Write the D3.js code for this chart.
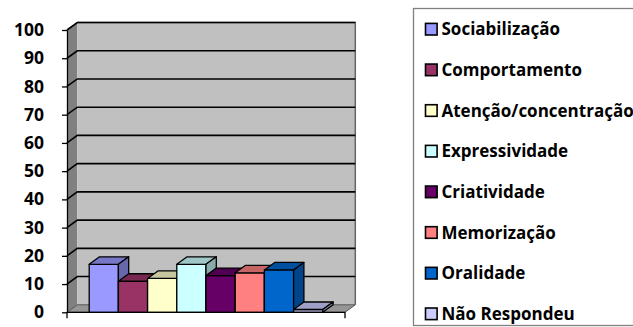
<!DOCTYPE html>
<html>
<head>
<meta charset="utf-8">
<script src="https://cdn.jsdelivr.net/npm/d3@7"></script>
<style>
  html, body { margin: 0; padding: 0; background: #fff; }
  svg { display: block; }
  text { font-family: "Open Sans", Lato, sans-serif; font-weight: bold; fill: #000; }
</style>
</head>
<body>
<svg id="chart" width="633" height="327"></svg>
<script>
// Series (one bar per category, single group)
const categories = ["Sociabilização", "Comportamento", "Atenção/concentração", "Expressividade",
                    "Criatividade", "Memorização", "Oralidade", "Não Respondeu"];
const values = [17, 11, 12, 17, 13, 14, 15, 1];
const colors = ["#9999FF", "#993366", "#FFFFCC", "#CCFFFF", "#660066", "#FF8080", "#0066CC", "#CCCCFF"];
const yTicks = [0, 10, 20, 30, 40, 50, 60, 70, 80, 90, 100];

const svg = d3.select("#chart");

// plot geometry (front plane) and 3D depth offset
const plotL = 67, plotR = 345, plotT = 30, plotB = 312.3;
const dx = 10.3, dy = -7.5;

const y = d3.scaleLinear().domain([0, 100]).range([plotB, plotT]);
const x = d3.scaleBand().domain(categories).range([plotL, plotR])
  .paddingInner(0).paddingOuter(0.76);

const shade = (c, k) => {
  const col = d3.rgb(c);
  return d3.rgb(col.r * k, col.g * k, col.b * k).formatHex();
};

// walls and floor
const g = svg.append("g");
g.append("polygon") // side wall
  .attr("points", [[plotL, y(100)], [plotL + dx, y(100) + dy], [plotL + dx, y(0) + dy], [plotL, y(0)]].join(" "))
  .attr("fill", "#808080");
g.append("rect") // back wall
  .attr("x", plotL + dx).attr("y", y(100) + dy)
  .attr("width", plotR - plotL).attr("height", y(0) - y(100))
  .attr("fill", "#C0C0C0");
g.append("polygon") // floor
  .attr("points", [[plotL, y(0)], [plotL + dx, y(0) + dy], [plotR + dx, y(0) + dy], [plotR, y(0)]].join(" "))
  .attr("fill", "#969696").attr("stroke", "#555").attr("stroke-width", 1);

// back wall frame
g.append("path")
  .attr("d", `M${plotL + dx},${y(100) + dy}H${plotR + dx}V${y(0) + dy}`)
  .attr("fill", "none").attr("stroke", "#666").attr("stroke-width", 1.5);

// gridlines
g.selectAll(".grid").data(yTicks.filter(v => v > 0)).join("path")
  .attr("class", "grid")
  .attr("d", v => `M${plotL},${y(v)}L${plotL + dx},${y(v) + dy}H${plotR + dx}`)
  .attr("fill", "none").attr("stroke", "#000").attr("stroke-width", 1.6);

// bars: front, top, side
const bars = svg.append("g").selectAll("g").data(categories).join("g");
bars.each(function(c, i) {
  const b = d3.select(this);
  const x0 = x(c), x1 = x(c) + x.bandwidth();
  const yt = y(values[i]), yb = y(0);
  const edge = sel => sel.attr("stroke", "#000").attr("stroke-width", 1.3).attr("stroke-linejoin", "round");
  edge(b.append("rect").attr("x", x0).attr("y", yt).attr("width", x1 - x0).attr("height", yb - yt)
    .attr("fill", colors[i]));
  edge(b.append("polygon")
    .attr("points", [[x0, yt], [x0 + dx, yt + dy], [x1 + dx, yt + dy], [x1, yt]].join(" "))
    .attr("fill", shade(colors[i], 0.78)));
  edge(b.append("polygon")
    .attr("points", [[x1, yt], [x1 + dx, yt + dy], [x1 + dx, yb + dy], [x1, yb]].join(" "))
    .attr("fill", shade(colors[i], 0.67)));
});

// y axis
const yAxis = svg.append("g").attr("transform", `translate(${plotL},0)`)
  .call(d3.axisLeft(y).tickValues(yTicks).tickSize(5).tickPadding(18).tickSizeOuter(0));
yAxis.select(".domain").attr("stroke", "#000").attr("stroke-width", 1.3);
yAxis.selectAll(".tick line").attr("stroke", "#000").attr("stroke-width", 1.3);
yAxis.selectAll(".tick text").style("font-size", "17.5px").style("font-family", "'Open Sans', sans-serif")
  .style("font-weight", "bold").attr("fill", "#000");

// x axis (front floor edge)
svg.append("path")
  .attr("d", `M${plotL},${plotB + 6}V${plotB}H${plotR}V${plotB + 6}`)
  .attr("fill", "none").attr("stroke", "#000").attr("stroke-width", 1.3);

// legend
const legend = svg.append("g");
legend.append("rect").attr("x", 413.5).attr("y", 8.5).attr("width", 260).attr("height", 317)
  .attr("fill", "#fff").attr("stroke", "#808080").attr("stroke-width", 1.3);
const items = legend.selectAll(".item").data(categories).join("g")
  .attr("class", "item")
  .attr("transform", (d, i) => `translate(0,${29.2 + i * 40.66})`);
items.append("rect").attr("x", 425.5).attr("y", -5.8).attr("width", 11.6).attr("height", 11.6)
  .attr("fill", (d, i) => colors[i]).attr("stroke", "#000").attr("stroke-width", 1.6);
items.append("text").attr("x", 441.5).attr("y", 0).attr("dy", "0.36em")
  .style("font-size", "17px").text(d => d);
</script>
</body>
</html>
